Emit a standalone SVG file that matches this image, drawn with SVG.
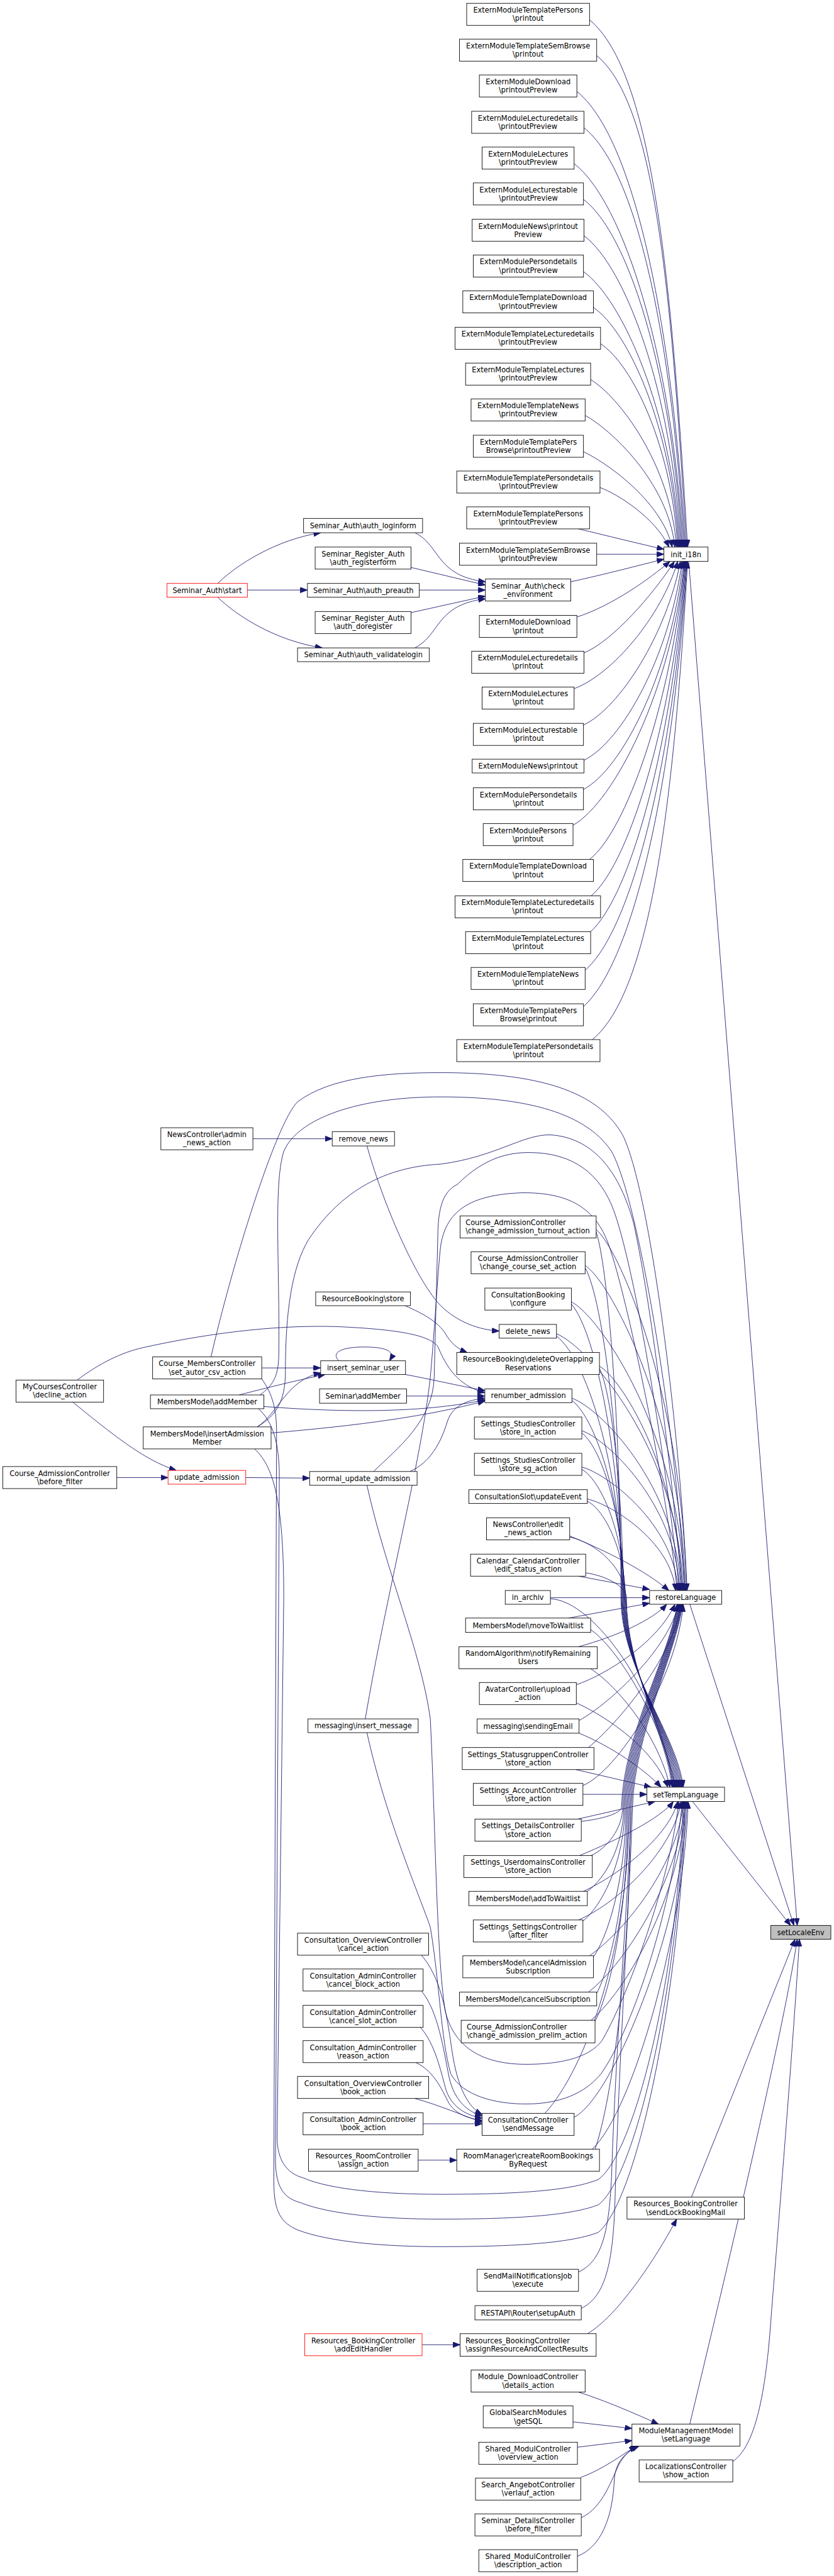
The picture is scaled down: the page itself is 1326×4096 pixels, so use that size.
<svg xmlns="http://www.w3.org/2000/svg" width="1326" height="4096" viewBox="0 0 1326 4096">
<defs>
<marker id="ah" viewBox="0 0 13 10" refX="13" refY="5" markerWidth="13" markerHeight="10" markerUnits="userSpaceOnUse" orient="auto"><path d="M0,0 L13,5 L0,10 z" fill="#191970" stroke="#191970"/></marker>
<style>
.n rect{fill:#fff;stroke:#000;stroke-width:1}
.n.red rect{stroke:#f00}
.n.g rect{fill:#bfbfbf}
text{font-family:"DejaVu Sans","Liberation Sans",sans-serif;font-size:13px;fill:#000;text-anchor:middle}
text.l{text-anchor:start}
#edges path{fill:none;stroke:#191970;stroke-width:1;marker-end:url(#ah)}
</style>
</defs>
<rect width="1326" height="4096" fill="#fff"/>
<g transform="scale(0.876)">
<g id="edges">
<path d="M1070,36 C1186,132 1219,514 1248,993"/>
<path d="M1083,101 C1192,190 1219,547 1246,993"/>
<path d="M1047,166 C1150,249 1219,580 1244,993"/>
<path d="M1060,232 C1156,308 1219,613 1242,993"/>
<path d="M1042,297 C1132,367 1219,645 1240,993"/>
<path d="M1059,362 C1142,425 1219,678 1238,993"/>
<path d="M1060,428 C1136,485 1219,710 1236,993"/>
<path d="M1059,493 C1129,543 1219,743 1234,993"/>
<path d="M1077,558 C1141,602 1219,775 1232,993"/>
<path d="M1090,624 C1147,661 1219,808 1230,993"/>
<path d="M1072,689 C1122,719 1217,841 1228,993"/>
<path d="M1062,754 C1106,778 1212,873 1225,993"/>
<path d="M1059,820 C1096,837 1200,907 1220,993"/>
<path d="M1089,885 C1120,896 1190,940 1214,993"/>
<path d="M1050,960 C1100,972 1160,987 1205,997"/>
<path d="M1083,1006 L1205,1006"/>
<path d="M1036,1056 C1100,1042 1160,1026 1205,1015"/>
<path d="M1047,1120 C1110,1100 1180,1050 1216,1019"/>
<path d="M1060,1185 C1110,1165 1185,1080 1224,1019"/>
<path d="M1042,1250 C1110,1225 1200,1120 1230,1019"/>
<path d="M1059,1316 C1125,1285 1210,1150 1235,1019"/>
<path d="M1060,1380 C1130,1345 1215,1190 1238,1019"/>
<path d="M1059,1433 C1130,1395 1218,1220 1240,1019"/>
<path d="M1040,1498 C1115,1455 1220,1250 1242,1019"/>
<path d="M1070,1560 C1135,1510 1218,1280 1243,1019"/>
<path d="M1073,1626 C1140,1570 1219,1320 1244,1019"/>
<path d="M1072,1691 C1145,1625 1220,1350 1245,1019"/>
<path d="M1062,1761 C1145,1690 1221,1390 1246,1019"/>
<path d="M1059,1827 C1150,1745 1222,1420 1247,1019"/>
<path d="M1075,1887 C1182,1800 1223,1453 1248,1019"/>
<path d="M1250,1019 L1447,3495"/>
<path d="M395,1059 C430,1025 500,980 582,967"/>
<path d="M449,1071 L558,1071"/>
<path d="M395,1084 C430,1118 500,1163 585,1176"/>
<path d="M753,967 C800,990 790,1045 881,1056"/>
<path d="M746,1030 L881,1062"/>
<path d="M761,1071 L881,1071"/>
<path d="M746,1112 L881,1082"/>
<path d="M753,1176 C800,1152 790,1098 881,1087"/>
<path d="M459,2067 L603,2067"/>
<path d="M666,2080 C700,2200 760,2330 800,2370 C830,2400 870,2414 906,2416"/>
<path d="M735,2370 C770,2385 795,2400 808,2420 C818,2438 830,2448 848,2455"/>
<path d="M475,2483 L582,2483"/>
<path d="M434,2532 C500,2515 550,2503 590,2495"/>
<path d="M467,2590 C505,2565 520,2505 582,2492"/>
<path d="M615,2470 C600,2455 620,2445 660,2445 C700,2445 718,2452 707,2470"/>
<path d="M736,2495 C780,2503 830,2515 880,2524"/>
<path d="M738,2534 L880,2534"/>
<path d="M479,2553 C650,2566 780,2562 880,2541"/>
<path d="M492,2601 C650,2588 780,2570 880,2543"/>
<path d="M744,2671 C780,2655 800,2620 812,2580 C822,2550 850,2541 880,2538"/>
<path d="M140,2505 C180,2475 220,2455 260,2446 C400,2415 520,2405 612,2408 C700,2412 780,2420 795,2445 C810,2480 830,2515 880,2528"/>
<path d="M132,2545 C200,2600 260,2650 320,2669"/>
<path d="M212,2682 L305,2682"/>
<path d="M446,2682 L562,2683"/>
<path d="M765,3549 C800,3590 810,3650 820,3720 C830,3790 850,3825 875,3838"/>
<path d="M765,3614 C795,3650 805,3720 815,3770 C825,3815 850,3833 875,3841"/>
<path d="M763,3680 C790,3710 800,3760 810,3795 C822,3828 850,3840 875,3845"/>
<path d="M755,3744 C790,3760 805,3800 815,3818 C828,3838 850,3845 875,3849"/>
<path d="M753,3809 C800,3822 840,3840 875,3852"/>
<path d="M768,3855 L875,3855"/>
<path d="M759,3921 L829,3921"/>
<path d="M766,4256 L835,4256"/>
<path d="M1066,4236 C1120,4205 1190,4100 1228,4028"/>
<path d="M1050,4342 C1100,4358 1150,4380 1195,4400"/>
<path d="M1040,4396 L1147,4408"/>
<path d="M1048,4442 L1147,4430"/>
<path d="M1054,4497 C1095,4482 1130,4455 1155,4440"/>
<path d="M1055,4570 C1095,4551 1110,4500 1125,4470 C1135,4455 1145,4445 1157,4440"/>
<path d="M1048,4640 C1091,4623 1112,4570 1115,4500 C1117,4470 1135,4450 1160,4440"/>
<path d="M1252,2912 L1441,3495"/>
<path d="M1257,3270 L1435,3495"/>
<path d="M1255,3988 L1443,3520"/>
<path d="M1252,4400 C1300,4200 1420,3700 1447,3520"/>
<path d="M1330,4468 C1370,4440 1390,4350 1400,4200 C1420,3950 1440,3700 1451,3520"/>
<path d="M1082,2232 C1123,2265 1238,2527 1246,2887"/>
<path d="M1062,2297 C1108,2327 1236,2563 1244,2887"/>
<path d="M1037,2363 C1088,2389 1234,2599 1242,2887"/>
<path d="M1010,2421 C1068,2444 1232,2631 1240,2887"/>
<path d="M1088,2480 C1126,2500 1230,2663 1238,2887"/>
<path d="M1038,2538 C1088,2555 1228,2695 1236,2887"/>
<path d="M1056,2597 C1101,2612 1226,2728 1234,2887"/>
<path d="M1056,2663 C1100,2674 1223,2764 1231,2887"/>
<path d="M1066,2721 C1106,2729 1218,2796 1226,2887"/>
<path d="M1034,2788 C1100,2815 1170,2850 1214,2887"/>
<path d="M1050,2861 L1179,2885"/>
<path d="M1082,2236 C1104,2302 1127,2601 1127,2900 C1127,3030 1230,3150 1240,3244"/>
<path d="M1062,2301 C1095,2361 1128,2630 1128,2900 C1128,3030 1228,3150 1238,3244"/>
<path d="M1037,2367 C1083,2420 1129,2660 1129,2900 C1129,3030 1226,3150 1236,3244"/>
<path d="M1010,2425 C1070,2472 1130,2686 1130,2900 C1130,3030 1224,3150 1234,3244"/>
<path d="M1088,2484 C1110,2526 1131,2713 1131,2900 C1131,3030 1222,3150 1232,3244"/>
<path d="M1038,2542 C1085,2578 1132,2739 1132,2900 C1132,3030 1220,3150 1230,3244"/>
<path d="M1056,2601 C1095,2631 1133,2765 1133,2900 C1133,3030 1218,3150 1228,3244"/>
<path d="M1056,2667 C1095,2690 1134,2795 1134,2900 C1134,3030 1216,3150 1226,3244"/>
<path d="M1066,2725 C1100,2742 1135,2821 1135,2900 C1135,3030 1214,3150 1224,3244"/>
<path d="M1034,2790 C1085,2801 1136,2850 1136,2900 C1136,3030 1212,3150 1222,3244"/>
<path d="M1063,2855 C1100,2860 1137,2880 1137,2900 C1137,3030 1210,3150 1220,3244"/>
<path d="M999,2900 L1179,2900"/>
<path d="M999,2902 C1080,2905 1200,3080 1222,3244"/>
<path d="M1032,2937 L1179,2910"/>
<path d="M1072,2958 C1120,2990 1200,3120 1226,3244"/>
<path d="M1050,2989 C1120,2970 1185,2940 1210,2912"/>
<path d="M1072,3029 C1120,3060 1195,3150 1216,3244"/>
<path d="M1046,3058 C1100,3040 1195,2980 1225,2912"/>
<path d="M1046,3091 C1110,3120 1190,3180 1212,3244"/>
<path d="M1051,3123 C1110,3090 1215,2990 1231,2912"/>
<path d="M1051,3146 C1110,3170 1170,3212 1200,3244"/>
<path d="M1068,3172 C1130,3120 1225,3000 1236,2912"/>
<path d="M1045,3212 L1182,3244"/>
<path d="M1058,3257 L1174,3257"/>
<path d="M1058,3241 C1120,3215 1228,3050 1240,2912"/>
<path d="M1048,3302 L1189,3270"/>
<path d="M1052,3368 C1120,3340 1200,3300 1222,3270"/>
<path d="M1057,3434 C1130,3400 1215,3330 1230,3270"/>
<path d="M1050,3485 C1130,3450 1225,3350 1236,3270"/>
<path d="M1070,3550 C1140,3500 1232,3380 1240,3270"/>
<path d="M1068,3616 C1140,3560 1236,3400 1243,3270"/>
<path d="M1073,3667 C1150,3600 1238,3420 1245,3270"/>
<path d="M1042,3843 C1110,3810 1240,3500 1247,3270"/>
<path d="M1075,3901 C1150,3830 1242,3500 1249,3270"/>
<path d="M1055,3306 C1091,3302 1128,3292 1128,3280 C1131,3150 1217,3000 1229,2912"/>
<path d="M1073,3368 C1101,3355 1130,3320 1130,3280 C1133,3150 1218,3000 1230,2912"/>
<path d="M1066,3433 C1099,3410 1132,3349 1132,3280 C1135,3150 1219,3000 1231,2912"/>
<path d="M1058,3487 C1096,3456 1134,3373 1134,3280 C1137,3150 1220,3000 1232,2912"/>
<path d="M1077,3552 C1106,3511 1136,3402 1136,3280 C1139,3150 1221,3000 1233,2912"/>
<path d="M1083,3618 C1110,3567 1138,3432 1138,3280 C1141,3150 1222,3000 1234,2912"/>
<path d="M1080,3669 C1110,3611 1140,3455 1140,3280 C1143,3150 1223,3000 1235,2912"/>
<path d="M989,3836 C1065,3753 1142,3530 1142,3280 C1145,3150 1224,3000 1236,2912"/>
<path d="M1080,3901 C1112,3808 1144,3559 1144,3280 C1147,3150 1225,3000 1237,2912"/>
<path d="M1050,4124 C1090,4105 1105,4060 1110,3950 C1118,3700 1140,3450 1146,3280 C1149,3150 1226,3000 1238,2912"/>
<path d="M1055,4190 C1095,4170 1112,4120 1116,4000 C1124,3720 1142,3460 1148,3280 C1151,3150 1227,3000 1239,2912"/>
<path d="M383,2463 C420,2300 500,2040 540,2000 C600,1955 700,1947 800,1947 C1000,1947 1090,1990 1130,2060 C1180,2160 1235,2600 1247,2887"/>
<path d="M472,2532 C495,2515 505,2500 506,2460 C508,2300 496,2150 515,2090 C540,2030 650,1991 800,1991 C980,1991 1070,2030 1110,2090 C1160,2180 1228,2600 1243,2887"/>
<path d="M467,2590 C500,2570 518,2545 518,2490 C518,2380 530,2300 560,2250 C620,2160 700,2118 800,2113 C900,2100 950,2058 1000,2060 C1080,2066 1125,2130 1150,2220 C1185,2380 1222,2700 1238,2887"/>
<path d="M678,2671 C720,2630 786,2580 788,2500 L795,2230 C797,2180 810,2160 830,2150 C880,2100 925,2092 960,2092 C1040,2092 1090,2130 1115,2200 C1160,2330 1215,2700 1233,2887"/>
<path d="M663,3120 C700,2900 765,2650 781,2500 C790,2400 795,2300 800,2260 C810,2200 850,2168 950,2165 C1030,2165 1080,2190 1105,2260 C1140,2360 1210,2700 1229,2887"/>
<path d="M666,2696 C700,2850 765,3000 781,3120 C790,3300 792,3550 808,3650 C825,3720 880,3747 955,3747 C1040,3747 1080,3725 1095,3700 C1140,3620 1215,3420 1232,3270"/>
<path d="M666,3145 C700,3300 765,3450 781,3498 C798,3600 800,3700 818,3764 C840,3805 900,3819 955,3819 C1030,3819 1070,3790 1091,3764 C1150,3680 1225,3450 1238,3270"/>
<path d="M462,2630 C495,2660 515,2720 515,2900 L503,3880 C503,3920 520,3945 550,3953 C600,3975 700,3983 800,3983 C950,3983 1040,3975 1086,3956 C1150,3910 1230,3600 1240,3270"/>
<path d="M469,2557 C495,2580 507,2620 507,2680 L500,3920 C500,3970 515,3990 545,3998 C600,4020 700,4028 800,4028 C950,4028 1040,4020 1086,4002 C1155,3950 1233,3600 1242,3270"/>
<path d="M475,2503 C495,2530 502,2560 502,2600 L497,3960 C497,4015 510,4035 541,4048 C600,4070 700,4078 800,4078 C950,4078 1040,4070 1086,4052 C1160,3990 1236,3600 1244,3270"/>
</g>
<g id="n1" class="n"><rect x="847" y="6" width="223" height="40"/><text x="958.5" y="23">ExternModuleTemplatePersons</text><text x="958.5" y="38">\printout</text></g>
<g id="n2" class="n"><rect x="834" y="71" width="249" height="40"/><text x="958.5" y="88">ExternModuleTemplateSemBrowse</text><text x="958.5" y="103">\printout</text></g>
<g id="n3" class="n"><rect x="870" y="136" width="177" height="40"/><text x="958.5" y="153">ExternModuleDownload</text><text x="958.5" y="168">\printoutPreview</text></g>
<g id="n4" class="n"><rect x="856" y="202" width="204" height="40"/><text x="958" y="219">ExternModuleLecturedetails</text><text x="958" y="234">\printoutPreview</text></g>
<g id="n5" class="n"><rect x="875" y="267" width="167" height="40"/><text x="958.5" y="284">ExternModuleLectures</text><text x="958.5" y="299">\printoutPreview</text></g>
<g id="n6" class="n"><rect x="859" y="332" width="200" height="40"/><text x="959" y="349">ExternModuleLecturestable</text><text x="959" y="364">\printoutPreview</text></g>
<g id="n7" class="n"><rect x="857" y="398" width="203" height="40"/><text x="958.5" y="415">ExternModuleNews\printout</text><text x="958.5" y="430">Preview</text></g>
<g id="n8" class="n"><rect x="859" y="463" width="200" height="40"/><text x="959" y="480">ExternModulePersondetails</text><text x="959" y="495">\printoutPreview</text></g>
<g id="n9" class="n"><rect x="840" y="528" width="237" height="40"/><text x="958.5" y="545">ExternModuleTemplateDownload</text><text x="958.5" y="560">\printoutPreview</text></g>
<g id="n10" class="n"><rect x="826" y="594" width="264" height="40"/><text x="958" y="611">ExternModuleTemplateLecturedetails</text><text x="958" y="626">\printoutPreview</text></g>
<g id="n11" class="n"><rect x="845" y="659" width="227" height="40"/><text x="958.5" y="676">ExternModuleTemplateLectures</text><text x="958.5" y="691">\printoutPreview</text></g>
<g id="n12" class="n"><rect x="855" y="724" width="207" height="40"/><text x="958.5" y="741">ExternModuleTemplateNews</text><text x="958.5" y="756">\printoutPreview</text></g>
<g id="n13" class="n"><rect x="859" y="790" width="200" height="40"/><text x="959" y="807">ExternModuleTemplatePers</text><text x="959" y="822">Browse\printoutPreview</text></g>
<g id="n14" class="n"><rect x="829" y="855" width="260" height="40"/><text x="959" y="872">ExternModuleTemplatePersondetails</text><text x="959" y="887">\printoutPreview</text></g>
<g id="n15" class="n"><rect x="847" y="920" width="223" height="40"/><text x="958.5" y="937">ExternModuleTemplatePersons</text><text x="958.5" y="952">\printoutPreview</text></g>
<g id="n16" class="n"><rect x="834" y="986" width="249" height="40"/><text x="958.5" y="1003">ExternModuleTemplateSemBrowse</text><text x="958.5" y="1018">\printoutPreview</text></g>
<g id="n17" class="n"><rect x="881" y="1051" width="155" height="40"/><text x="958.5" y="1068">Seminar_Auth\check</text><text x="958.5" y="1083">_environment</text></g>
<g id="n18" class="n"><rect x="870" y="1117" width="177" height="40"/><text x="958.5" y="1134">ExternModuleDownload</text><text x="958.5" y="1149">\printout</text></g>
<g id="n19" class="n"><rect x="856" y="1182" width="204" height="40"/><text x="958" y="1199">ExternModuleLecturedetails</text><text x="958" y="1214">\printout</text></g>
<g id="n20" class="n"><rect x="875" y="1247" width="167" height="40"/><text x="958.5" y="1264">ExternModuleLectures</text><text x="958.5" y="1279">\printout</text></g>
<g id="n21" class="n"><rect x="859" y="1313" width="200" height="40"/><text x="959" y="1330">ExternModuleLecturestable</text><text x="959" y="1345">\printout</text></g>
<g id="n22" class="n"><rect x="857" y="1378" width="203" height="25"/><text x="958.5" y="1395">ExternModuleNews\printout</text></g>
<g id="n23" class="n"><rect x="859" y="1430" width="200" height="40"/><text x="959" y="1447">ExternModulePersondetails</text><text x="959" y="1462">\printout</text></g>
<g id="n24" class="n"><rect x="877" y="1495" width="163" height="40"/><text x="958.5" y="1512">ExternModulePersons</text><text x="958.5" y="1527">\printout</text></g>
<g id="n25" class="n"><rect x="840" y="1560" width="237" height="40"/><text x="958.5" y="1577">ExternModuleTemplateDownload</text><text x="958.5" y="1592">\printout</text></g>
<g id="n26" class="n"><rect x="826" y="1626" width="264" height="40"/><text x="958" y="1643">ExternModuleTemplateLecturedetails</text><text x="958" y="1658">\printout</text></g>
<g id="n27" class="n"><rect x="845" y="1691" width="227" height="40"/><text x="958.5" y="1708">ExternModuleTemplateLectures</text><text x="958.5" y="1723">\printout</text></g>
<g id="n28" class="n"><rect x="855" y="1756" width="207" height="40"/><text x="958.5" y="1773">ExternModuleTemplateNews</text><text x="958.5" y="1788">\printout</text></g>
<g id="n29" class="n"><rect x="859" y="1822" width="200" height="40"/><text x="959" y="1839">ExternModuleTemplatePers</text><text x="959" y="1854">Browse\printout</text></g>
<g id="n30" class="n"><rect x="829" y="1887" width="260" height="40"/><text x="959" y="1904">ExternModuleTemplatePersondetails</text><text x="959" y="1919">\printout</text></g>
<g id="init_i18n" class="n"><rect x="1205" y="993" width="80" height="26"/><text x="1245" y="1011">init_i18n</text></g>
<g id="auth_start" class="n red"><rect x="303" y="1059" width="146" height="25"/><text x="376" y="1076">Seminar_Auth\start</text></g>
<g id="auth_loginform" class="n"><rect x="551" y="941" width="216" height="26"/><text x="659" y="959">Seminar_Auth\auth_loginform</text></g>
<g id="auth_registerform" class="n"><rect x="572" y="993" width="174" height="40"/><text x="659" y="1010">Seminar_Register_Auth</text><text x="659" y="1025">\auth_registerform</text></g>
<g id="auth_preauth" class="n"><rect x="558" y="1059" width="203" height="25"/><text x="659.5" y="1076">Seminar_Auth\auth_preauth</text></g>
<g id="auth_doregister" class="n"><rect x="572" y="1110" width="174" height="40"/><text x="659" y="1127">Seminar_Register_Auth</text><text x="659" y="1142">\auth_doregister</text></g>
<g id="auth_validatelogin" class="n"><rect x="540" y="1176" width="239" height="25"/><text x="659.5" y="1193">Seminar_Auth\auth_validatelogin</text></g>
<g id="turnout" class="n"><rect x="835" y="2207" width="247" height="40"/><text class="l" x="845" y="2224">Course_AdmissionController</text><text class="l" x="845" y="2239">\change_admission_turnout_action</text></g>
<g id="course_set" class="n"><rect x="855" y="2272" width="207" height="40"/><text x="958.5" y="2289">Course_AdmissionController</text><text x="958.5" y="2304">\change_course_set_action</text></g>
<g id="configure" class="n"><rect x="880" y="2338" width="157" height="40"/><text x="958.5" y="2355">ConsultationBooking</text><text x="958.5" y="2370">\configure</text></g>
<g id="delete_news" class="n"><rect x="906" y="2404" width="104" height="25"/><text x="958" y="2421">delete_news</text></g>
<g id="deleteOverlapping" class="n"><rect x="829" y="2455" width="259" height="40"/><text x="958.5" y="2472">ResourceBooking\deleteOverlapping</text><text x="958.5" y="2487">Reservations</text></g>
<g id="renumber_admission" class="n"><rect x="880" y="2521" width="158" height="25"/><text x="959" y="2538">renumber_admission</text></g>
<g id="store_in" class="n"><rect x="861" y="2572" width="195" height="40"/><text x="958.5" y="2589">Settings_StudiesController</text><text x="958.5" y="2604">\store_in_action</text></g>
<g id="store_sg" class="n"><rect x="861" y="2638" width="195" height="40"/><text x="958.5" y="2655">Settings_StudiesController</text><text x="958.5" y="2670">\store_sg_action</text></g>
<g id="updateEvent" class="n"><rect x="851" y="2704" width="215" height="25"/><text x="958.5" y="2721">ConsultationSlot\updateEvent</text></g>
<g id="edit_news" class="n"><rect x="883" y="2755" width="151" height="40"/><text x="958.5" y="2772">NewsController\edit</text><text x="958.5" y="2787">_news_action</text></g>
<g id="edit_status" class="n"><rect x="854" y="2821" width="209" height="40"/><text x="958.5" y="2838">Calendar_CalendarController</text><text x="958.5" y="2853">\edit_status_action</text></g>
<g id="in_archiv" class="n"><rect x="917" y="2887" width="82" height="25"/><text x="958" y="2904">in_archiv</text></g>
<g id="restoreLanguage" class="n"><rect x="1179" y="2887" width="131" height="25"/><text x="1244.5" y="2904">restoreLanguage</text></g>
<g id="moveToWaitlist" class="n"><rect x="845" y="2937" width="227" height="26"/><text x="958.5" y="2955">MembersModel\moveToWaitlist</text></g>
<g id="notifyRemaining" class="n"><rect x="833" y="2989" width="251" height="40"/><text x="958.5" y="3006">RandomAlgorithm\notifyRemaining</text><text x="958.5" y="3021">Users</text></g>
<g id="upload" class="n"><rect x="870" y="3054" width="176" height="40"/><text x="958" y="3071">AvatarController\upload</text><text x="958" y="3086">_action</text></g>
<g id="sendingEmail" class="n"><rect x="866" y="3120" width="185" height="26"/><text x="958.5" y="3138">messaging\sendingEmail</text></g>
<g id="statusgruppen" class="n"><rect x="839" y="3172" width="239" height="40"/><text x="958.5" y="3189">Settings_StatusgruppenController</text><text x="958.5" y="3204">\store_action</text></g>
<g id="account" class="n"><rect x="859" y="3237" width="199" height="40"/><text x="958.5" y="3254">Settings_AccountController</text><text x="958.5" y="3269">\store_action</text></g>
<g id="setTempLanguage" class="n"><rect x="1174" y="3244" width="141" height="26"/><text x="1244.5" y="3262">setTempLanguage</text></g>
<g id="details" class="n"><rect x="862" y="3302" width="193" height="40"/><text x="958.5" y="3319">Settings_DetailsController</text><text x="958.5" y="3334">\store_action</text></g>
<g id="userdomains" class="n"><rect x="842" y="3368" width="233" height="40"/><text x="958.5" y="3385">Settings_UserdomainsController</text><text x="958.5" y="3400">\store_action</text></g>
<g id="addToWaitlist" class="n"><rect x="851" y="3433" width="215" height="26"/><text x="958.5" y="3451">MembersModel\addToWaitlist</text></g>
<g id="after_filter" class="n"><rect x="859" y="3485" width="199" height="40"/><text x="958.5" y="3502">Settings_SettingsController</text><text x="958.5" y="3517">\after_filter</text></g>
<g id="setLocaleEnv" class="n g"><rect x="1399" y="3495" width="109" height="25"/><text x="1453.5" y="3512">setLocaleEnv</text></g>
<g id="cancelAdmSub" class="n"><rect x="840" y="3550" width="237" height="40"/><text x="958.5" y="3567">MembersModel\cancelAdmission</text><text x="958.5" y="3582">Subscription</text></g>
<g id="cancelSub" class="n"><rect x="834" y="3616" width="249" height="25"/><text x="958.5" y="3633">MembersModel\cancelSubscription</text></g>
<g id="prelim" class="n"><rect x="837" y="3667" width="243" height="41"/><text class="l" x="847" y="3684">Course_AdmissionController</text><text class="l" x="847" y="3699">\change_admission_prelim_action</text></g>
<g id="sendMessage" class="n"><rect x="875" y="3836" width="167" height="40"/><text x="958.5" y="3853">ConsultationController</text><text x="958.5" y="3868">\sendMessage</text></g>
<g id="createRoom" class="n"><rect x="829" y="3901" width="259" height="40"/><text x="958.5" y="3918">RoomManager\createRoomBookings</text><text x="958.5" y="3933">ByRequest</text></g>
<g id="sendLock" class="n"><rect x="1138" y="3988" width="213" height="40"/><text x="1244.5" y="4005">Resources_BookingController</text><text x="1244.5" y="4020">\sendLockBookingMail</text></g>
<g id="execute" class="n"><rect x="866" y="4119" width="184" height="40"/><text x="958" y="4136">SendMailNotificationsJob</text><text x="958" y="4151">\execute</text></g>
<g id="setupAuth" class="n"><rect x="862" y="4185" width="193" height="26"/><text x="958.5" y="4203">RESTAPI\Router\setupAuth</text></g>
<g id="assignResource" class="n"><rect x="835" y="4236" width="247" height="41"/><text class="l" x="845" y="4253">Resources_BookingController</text><text class="l" x="845" y="4268">\assignResourceAndCollectResults</text></g>
<g id="details_action" class="n"><rect x="855" y="4302" width="207" height="40"/><text x="958.5" y="4319">Module_DownloadController</text><text x="958.5" y="4334">\details_action</text></g>
<g id="getSQL" class="n"><rect x="877" y="4367" width="163" height="40"/><text x="958.5" y="4384">GlobalSearchModules</text><text x="958.5" y="4399">\getSQL</text></g>
<g id="mmm" class="n"><rect x="1147" y="4400" width="196" height="40"/><text x="1245" y="4417">ModuleManagementModel</text><text x="1245" y="4432">\setLanguage</text></g>
<g id="overview" class="n"><rect x="869" y="4433" width="179" height="40"/><text x="958.5" y="4450">Shared_ModulController</text><text x="958.5" y="4465">\overview_action</text></g>
<g id="localizations" class="n"><rect x="1160" y="4465" width="170" height="40"/><text x="1245" y="4482">LocalizationsController</text><text x="1245" y="4497">\show_action</text></g>
<g id="verlauf" class="n"><rect x="863" y="4498" width="191" height="40"/><text x="958.5" y="4515">Search_AngebotController</text><text x="958.5" y="4530">\verlauf_action</text></g>
<g id="sem_details" class="n"><rect x="862" y="4563" width="193" height="40"/><text x="958.5" y="4580">Seminar_DetailsController</text><text x="958.5" y="4595">\before_filter</text></g>
<g id="description" class="n"><rect x="869" y="4628" width="179" height="40"/><text x="958.5" y="4645">Shared_ModulController</text><text x="958.5" y="4660">\description_action</text></g>
<g id="admin_news" class="n"><rect x="292" y="2047" width="167" height="40"/><text x="375.5" y="2064">NewsController\admin</text><text x="375.5" y="2079">_news_action</text></g>
<g id="remove_news" class="n"><rect x="603" y="2054" width="113" height="26"/><text x="659.5" y="2072">remove_news</text></g>
<g id="rb_store" class="n"><rect x="573" y="2345" width="172" height="25"/><text x="659" y="2362">ResourceBooking\store</text></g>
<g id="set_autor" class="n"><rect x="277" y="2463" width="198" height="40"/><text x="376" y="2480">Course_MembersController</text><text x="376" y="2495">\set_autor_csv_action</text></g>
<g id="insert_seminar_user" class="n"><rect x="582" y="2470" width="154" height="25"/><text x="659" y="2487">insert_seminar_user</text></g>
<g id="decline" class="n"><rect x="29" y="2505" width="159" height="40"/><text x="108.5" y="2522">MyCoursesController</text><text x="108.5" y="2537">\decline_action</text></g>
<g id="mm_addMember" class="n"><rect x="273" y="2532" width="206" height="25"/><text x="376" y="2549">MembersModel\addMember</text></g>
<g id="sem_addMember" class="n"><rect x="580" y="2521" width="158" height="26"/><text x="659" y="2539">Seminar\addMember</text></g>
<g id="insertAdmission" class="n"><rect x="260" y="2590" width="232" height="40"/><text x="376" y="2607">MembersModel\insertAdmission</text><text x="376" y="2622">Member</text></g>
<g id="before_filter" class="n"><rect x="5" y="2662" width="207" height="40"/><text x="108.5" y="2679">Course_AdmissionController</text><text x="108.5" y="2694">\before_filter</text></g>
<g id="update_admission" class="n red"><rect x="305" y="2669" width="141" height="25"/><text x="375.5" y="2686">update_admission</text></g>
<g id="normal_update" class="n"><rect x="562" y="2671" width="195" height="25"/><text x="659.5" y="2688">normal_update_admission</text></g>
<g id="insert_message" class="n"><rect x="559" y="3120" width="200" height="25"/><text x="659" y="3137">messaging\insert_message</text></g>
<g id="cancel_action" class="n"><rect x="540" y="3509" width="238" height="40"/><text x="659" y="3526">Consultation_OverviewController</text><text x="659" y="3541">\cancel_action</text></g>
<g id="cancel_block" class="n"><rect x="550" y="3574" width="218" height="40"/><text x="659" y="3591">Consultation_AdminController</text><text x="659" y="3606">\cancel_block_action</text></g>
<g id="cancel_slot" class="n"><rect x="550" y="3640" width="218" height="40"/><text x="659" y="3657">Consultation_AdminController</text><text x="659" y="3672">\cancel_slot_action</text></g>
<g id="reason" class="n"><rect x="550" y="3704" width="218" height="40"/><text x="659" y="3721">Consultation_AdminController</text><text x="659" y="3736">\reason_action</text></g>
<g id="ov_book" class="n"><rect x="540" y="3769" width="238" height="40"/><text x="659" y="3786">Consultation_OverviewController</text><text x="659" y="3801">\book_action</text></g>
<g id="ad_book" class="n"><rect x="550" y="3835" width="218" height="40"/><text x="659" y="3852">Consultation_AdminController</text><text x="659" y="3867">\book_action</text></g>
<g id="assign" class="n"><rect x="560" y="3901" width="199" height="40"/><text x="659.5" y="3918">Resources_RoomController</text><text x="659.5" y="3933">\assign_action</text></g>
<g id="addEditHandler" class="n red"><rect x="553" y="4236" width="213" height="40"/><text x="659.5" y="4253">Resources_BookingController</text><text x="659.5" y="4268">\addEditHandler</text></g>
</g>
</svg>
